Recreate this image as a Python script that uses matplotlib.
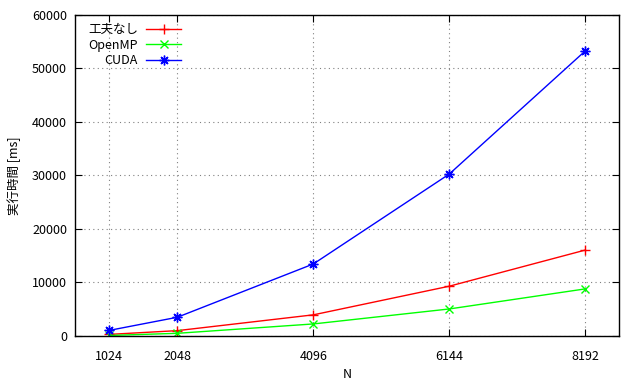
import matplotlib
matplotlib.use("Agg")
import matplotlib.pyplot as plt

plt.rcParams['font.family'] = ['Noto Sans CJK JP', 'DejaVu Sans']

# problem sizes and measured times [ms]
n_values = [1024, 2048, 4096, 6144, 8192]
t_naive = [300, 1000, 3950, 9300, 16050]
t_openmp = [100, 500, 2250, 5050, 8800]
t_cuda = [1050, 3500, 13450, 30250, 53250]

fig, ax = plt.subplots(figsize=(6.4, 3.87), dpi=100)
fig.subplots_adjust(left=0.1177, right=0.9677, bottom=0.1318, top=0.962)

ax.plot(n_values, t_naive, color='red', marker='+', ms=7, mew=1, lw=1, label='工夫なし')
ax.plot(n_values, t_openmp, color='#00ff00', marker='x', ms=6, mew=1, lw=1, label='OpenMP')
ax.plot(n_values, t_cuda, color='blue', marker=(8, 2, 0), ms=7, mew=1, lw=1, label='CUDA')

ax.set_xlim(512, 8704)
ax.set_ylim(0, 60000)
ax.set_xticks(n_values)
ax.set_yticks(range(0, 60001, 10000))
ax.tick_params(direction='in', top=True, right=True, length=5, labelsize=9)
ax.tick_params(axis='x', pad=10)
ax.tick_params(axis='y', pad=6)
ax.grid(True, color='gray', linestyle=(0, (1, 3)), linewidth=0.8)
for s in ax.spines.values():
    s.set_linewidth(1)

ax.set_xlabel('N', fontsize=9, labelpad=4)
ax.set_ylabel('実行時間 [ms]', fontsize=9, labelpad=8)

leg = ax.legend(loc='upper left', bbox_to_anchor=(0.014, 0.989), markerfirst=False,
                frameon=False, fontsize=9, handlelength=2.8, labelspacing=0.2,
                borderaxespad=0, handletextpad=0.65)

fig.savefig('out.png', dpi=100)
